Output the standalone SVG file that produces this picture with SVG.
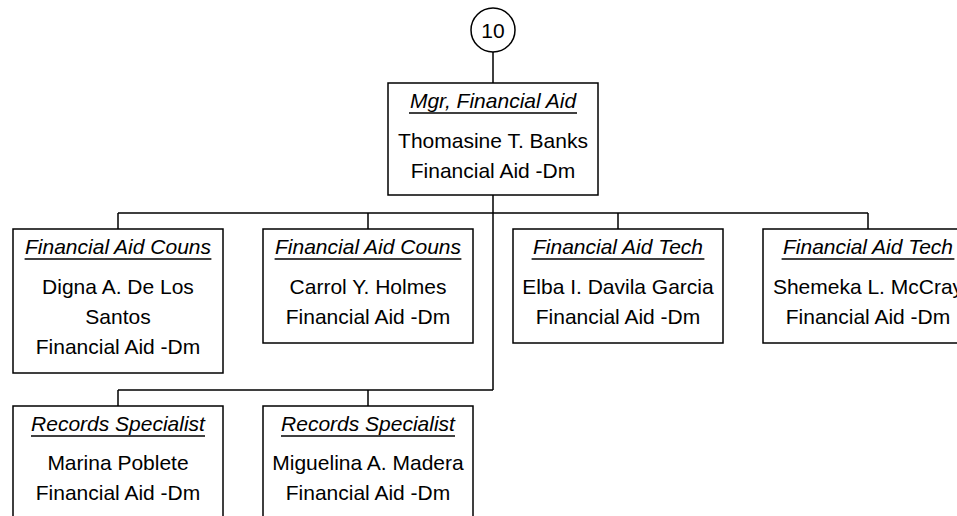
<svg xmlns="http://www.w3.org/2000/svg" width="957" height="516" viewBox="0 0 957 516">
<style>
.box{fill:#fff;stroke:#000;stroke-width:1.5}
.ln{fill:none;stroke:#000;stroke-width:1.5}
.ul{stroke:#000;stroke-width:1.6}
text{font-family:"Liberation Sans",Arial,sans-serif;font-size:21px;fill:#000;text-anchor:middle}
.t{font-style:italic}
</style>
<rect width="957" height="516" fill="#fff"/>
<g id="connectors">
<path class="ln" d="M493,52V83M493,195V390M118,213H868M118,213V229M368,213V229M618,213V229M868,213V229M118,390H493M118,390V406M368,390V406"/>
</g>
<g id="n10">
<circle class="box" cx="493" cy="30" r="22"/>
<text x="493" y="37.5">10</text>
</g>
<g id="mgr">
<rect class="box" x="388" y="83" width="210" height="112"/>
<text class="t" x="493" y="108">Mgr, Financial Aid</text>
<line class="ul" x1="409" y1="113" x2="577" y2="113"/>
<text x="493" y="148">Thomasine T. Banks</text>
<text x="493" y="178">Financial Aid -Dm</text>
</g>
<g id="couns1">
<rect class="box" x="13" y="229" width="210" height="144"/>
<text class="t" x="118" y="254">Financial Aid Couns</text>
<line class="ul" x1="24.6" y1="259" x2="211.4" y2="259"/>
<text x="118" y="294">Digna A. De Los</text>
<text x="118" y="324">Santos</text>
<text x="118" y="354">Financial Aid -Dm</text>
</g>
<g id="couns2">
<rect class="box" x="263" y="229" width="210" height="114"/>
<text class="t" x="368" y="254">Financial Aid Couns</text>
<line class="ul" x1="274.6" y1="259" x2="461.4" y2="259"/>
<text x="368" y="294">Carrol Y. Holmes</text>
<text x="368" y="324">Financial Aid -Dm</text>
</g>
<g id="tech1">
<rect class="box" x="513" y="229" width="210" height="114"/>
<text class="t" x="618" y="254">Financial Aid Tech</text>
<line class="ul" x1="531.6" y1="259" x2="704.4" y2="259"/>
<text x="618" y="294">Elba I. Davila Garcia</text>
<text x="618" y="324">Financial Aid -Dm</text>
</g>
<g id="tech2">
<rect class="box" x="763" y="229" width="210" height="114"/>
<text class="t" x="868" y="254">Financial Aid Tech</text>
<line class="ul" x1="781.6" y1="259" x2="954.4" y2="259"/>
<text x="868" y="294">Shemeka L. McCray</text>
<text x="868" y="324">Financial Aid -Dm</text>
</g>
<g id="rec1">
<rect class="box" x="13" y="406" width="210" height="130"/>
<text class="t" x="118" y="431">Records Specialist</text>
<line class="ul" x1="31" y1="436" x2="205" y2="436"/>
<text x="118" y="470">Marina Poblete</text>
<text x="118" y="500">Financial Aid -Dm</text>
</g>
<g id="rec2">
<rect class="box" x="263" y="406" width="210" height="130"/>
<text class="t" x="368" y="431">Records Specialist</text>
<line class="ul" x1="281" y1="436" x2="455" y2="436"/>
<text x="368" y="470">Miguelina A. Madera</text>
<text x="368" y="500">Financial Aid -Dm</text>
</g>
</svg>
